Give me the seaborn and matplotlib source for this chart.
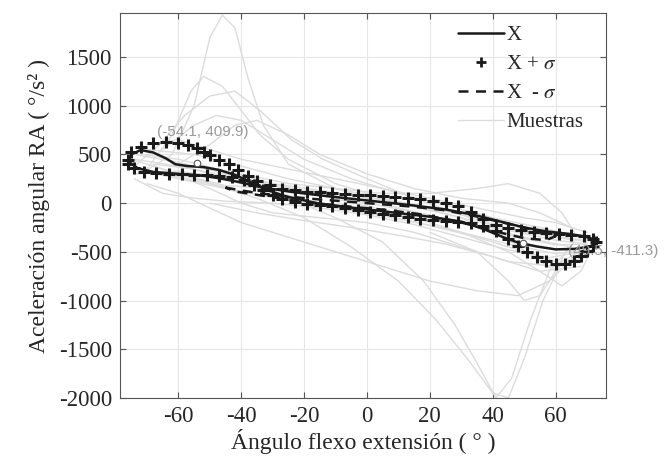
import pandas as pd
import seaborn as sns
import matplotlib.pyplot as plt
from matplotlib.lines import Line2D

sns.set_theme(style="whitegrid")
plt.rcParams['font.family'] = ['Liberation Serif', 'DejaVu Serif']
plt.rcParams['mathtext.fontset'] = 'stix'
plt.rcParams['axes.unicode_minus'] = False

# media X
mean_x = [-76, -73, -68, -62, -57, -52, -47, -42, -37, -31, -24, -15, -5, 5, 15, 25, 34, 42, 50, 57,
          64, 69, 72, 73, 71, 66, 60, 54, 48, 43, 37, 30, 20, 8, -4, -16, -26, -33, -38, -42,
          -47, -52, -57, -61, -64, -68, -72, -75, -76]
mean_y = [430, 360, 320, 305, 295, 280, 255, 225, 190, 150, 115, 80, 45, 10, -25, -65, -120, -185, -250, -290,
          -315, -340, -370, -405, -445, -470, -475, -445, -405, -345, -265, -190, -140, -95, -50, 0, 70, 150, 230, 290,
          340, 370, 380, 400, 460, 520, 545, 500, 430]

# X + sigma
sup_x = [-76, -75, -72, -68, -64, -60, -57, -54, -52, -50, -47, -44, -41, -38, -35, -31, -27, -23, -19, -15,
         -11, -7, -3, 1, 5, 9, 13, 17, 21, 25, 29, 33, 37, 41, 45, 49, 53, 57, 61, 65,
         69, 72, 73, 72, 70, 68, 66, 63, 60, 57, 54, 51, 48, 45, 41, 37, 33, 29, 25, 21,
         17, 13, 9, 5, 1, -3, -7, -11, -15, -19, -23, -27, -30, -33, -36, -39, -43, -47, -51, -55,
         -59, -63, -67, -71, -74, -76]
sup_y = [440, 520, 580, 615, 625, 615, 595, 565, 525, 490, 445, 400, 340, 280, 225, 185, 150, 130, 118, 110,
         102, 95, 88, 80, 72, 62, 52, 40, 25, 5, -30, -90, -160, -220, -255, -280, -295, -305, -312, -325,
         -340, -365, -400, -440, -490, -540, -590, -630, -625, -595, -555, -505, -440, -370, -290, -235, -205, -195, -185, -172,
         -158, -142, -126, -108, -88, -68, -50, -32, -18, -5, 10, 40, 80, 130, 190, 240, 265, 278, 285, 290,
         295, 300, 305, 320, 360, 400]

# X - sigma
inf_x = [-45, -40, -34, -26, -16, -6, 4, 14, 24, 34, 42, 50, 56, 60, 57, 50, 42, 34, 26, 16,
         6, -4, -14, -24, -34, -42, -45]
inf_y = [160, 130, 100, 70, 40, 15, -10, -35, -70, -130, -190, -250, -300, -340, -380, -360, -300, -230, -170, -110,
         -70, -40, -10, 30, 80, 120, 160]

# muestras
muestras_x = [
    [-72, -62, -55, -50, -46, -42, -38, -33, -25, -10, 10, 30, 50, 65],
    [-70, -62, -56, -52, -46, -40, -34, -25, -10, 10, 30, 50, 66],
    [-74, -66, -58, -50, -42, -34, -24, -14, 0, 15, 30, 45, 60],
    [-68, -55, -40, -25, -10, 5, 18, 28, 36, 41, 46, 52, 58, 66],
    [-65, -50, -35, -20, -5, 10, 22, 32, 40, 45, 50, 56, 62, 70],
    [-72, -60, -45, -30, -15, 0, 15, 30, 45, 55, 62, 68, 72],
    [-75, -65, -50, -40, -30, -15, 0, 15, 30, 45, 60, 70],
    [-70, -60, -50, -40, -25, -10, 5, 20, 35, 50, 60, 70],
    [-74, -65, -55, -45, -30, -15, 0, 15, 30, 45, 58, 68],
    [-60, -50, -42, -35, -25, -15, 0, 15, 30, 45, 55, 65],
    [-40, -25, -10, 5, 20, 35, 45, 55, 62, 66],
    [-70, -60, -50, -40, -25, -10, 5, 20, 35, 48, 58, 66],
    [-65, -55, -48, -40, -30, -20, -5, 10, 25, 40, 55, 68],
    [20, 35, 45, 50, 55, 60, 64],
    [-74, -60, -45, -30, -15, 0, 15, 30, 45, 60, 70],
    [-74, -60, -45, -30, -15, 0, 15, 30, 45, 60, 70],
    [-74, -60, -45, -30, -15, 0, 15, 30, 45, 60, 70],
    [-74, -60, -45, -30, -15, 0, 15, 30, 45, 60, 70],
    [-70, -55, -40, -25, -10, 5, 20, 35, 50, 62, 70],
    [-70, -55, -40, -25, -10, 5, 20, 35, 50, 62, 70],
    [-60, -45, -30, -15, 0, 15, 30, 45, 60],
    [-50, -35, -20, -5, 10, 25, 40, 55, 68],
]
muestras_y = [
    [300, 500, 1000, 1700, 1930, 1800, 1300, 800, 400, 150, -50, -200, -350, -450],
    [350, 700, 1150, 1300, 1200, 950, 700, 450, 200, 0, -150, -300, -380],
    [380, 600, 900, 1100, 1150, 950, 650, 450, 250, 50, -120, -260, -330],
    [400, 350, 200, 50, -150, -400, -800, -1250, -1700, -2000, -1800, -1200, -700, -400],
    [300, 200, 50, -150, -450, -800, -1200, -1600, -1950, -2000, -1600, -1000, -600, -450],
    [500, 450, 330, 200, 80, -30, -150, -300, -500, -700, -850, -700, -450],
    [450, 350, 150, 0, -100, -150, -200, -300, -450, -600, -650, -500],
    [600, 650, 550, 450, 350, 250, 150, 50, -50, -150, -200, -300],
    [250, 100, 50, 20, 0, -50, -120, -220, -350, -480, -560, -500],
    [400, 600, 800, 850, 700, 500, 300, 150, 50, 0, -100, -250],
    [300, 200, 150, 100, 100, 150, 200, 100, -100, -300],
    [200, 100, -50, -200, -350, -500, -650, -800, -900, -950, -800, -550],
    [550, 800, 900, 850, 650, 450, 250, 100, -20, -150, -250, -350],
    [-300, -500, -800, -1000, -950, -700, -450],
    [500, 420, 300, 180, 80, 0, -90, -200, -330, -430, -420],
    [350, 250, 150, 60, -20, -100, -190, -300, -420, -520, -480],
    [450, 380, 280, 200, 130, 60, -20, -110, -220, -350, -380],
    [300, 330, 260, 120, 0, -60, -120, -200, -280, -380, -420],
    [550, 500, 380, 250, 150, 50, -50, -150, -250, -350, -400],
    [400, 250, 120, 30, -50, -130, -230, -350, -500, -620, -550],
    [300, 180, 150, 120, 60, -20, -150, -380, -700],
    [0, -100, -180, -250, -330, -420, -550, -700, -650],
]

tips_x = [-54.1, 49.5]
tips_y = [409.9, -411.3]

xticks = [-60, -40, -20, 0, 20, 40, 60]
yticks = [-2000, -1500, -1000, -500, 0, 500, 1000, 1500]

rows = []
for i, (mx, my) in enumerate(zip(muestras_x, muestras_y)):
    for a, b in zip(mx, my):
        rows.append((i, a, b))
df_m = pd.DataFrame(rows, columns=['muestra', 'x', 'y'])

gris = '#dcdcdc'
fig = plt.figure(figsize=(6.68, 4.72), dpi=100)
ax = fig.add_axes([0.18, 0.157, 0.727, 0.815])

sns.lineplot(data=df_m, x='x', y='y', units='muestra', estimator=None, sort=False,
             color=gris, lw=1, ax=ax, legend=False)
sns.lineplot(x=inf_x, y=inf_y, sort=False, estimator=None, color='k', lw=1.8,
             linestyle=(0, (4, 3)), ax=ax)
sns.lineplot(x=mean_x, y=mean_y, sort=False, estimator=None, color='k', lw=1.8, ax=ax)
sns.lineplot(x=sup_x, y=sup_y, sort=False, estimator=None, color='k', linestyle='none',
             marker='+', markersize=8, markeredgewidth=2.2, markeredgecolor='k', ax=ax)
sns.scatterplot(x=tips_x, y=tips_y, marker='o', s=22, color='white', edgecolor='#555555',
                linewidth=0.8, zorder=6, ax=ax)

ax.text(-66.7, 730, '(-54.1, 409.9)', color='#9a9a9a', fontsize=11, zorder=7,
        family=['Liberation Sans', 'DejaVu Sans'], va='center')
ax.text(63.8, -494, '(49.5, -411.3)', color='#9a9a9a', fontsize=11, zorder=7,
        family=['Liberation Sans', 'DejaVu Sans'], va='center', clip_on=False)

ax.set_xlim(-78.5, 76)
ax.set_ylim(-2000, 1950)
ax.set_xticks(xticks)
ax.set_yticks(yticks)
ax.grid(True, color='#e6e6e6', lw=0.8)
ax.set_facecolor('white')
for s in ax.spines.values():
    s.set_color('#555555')
    s.set_linewidth(0.8)
ax.tick_params(direction='in', top=True, right=True, bottom=True, left=True,
               length=4, width=0.8, color='#555555', labelsize=16.5, pad=6)
ax.set_xlabel('Ángulo flexo extensión ( ° )', fontsize=17, labelpad=1)
ax.set_ylabel('Aceleración angular RA ( °/s² )', fontsize=17, labelpad=6)

handles = [
    Line2D([], [], color='k', lw=1.8),
    Line2D([], [], color='k', linestyle='none', marker='+', markersize=7, markeredgewidth=2),
    Line2D([], [], color='k', lw=1.8, linestyle=(0, (4, 3))),
    Line2D([], [], color=gris, lw=1),
]
labels = ['X', 'X + $\\sigma$', 'X  - $\\sigma$', 'Muestras']
ax.legend(handles, labels, loc='upper left', bbox_to_anchor=(0.675, 0.995), frameon=False,
          fontsize=15, handlelength=2.2, handletextpad=0.1, labelspacing=0.45, borderpad=0)

fig.savefig('out.png', dpi=100)
